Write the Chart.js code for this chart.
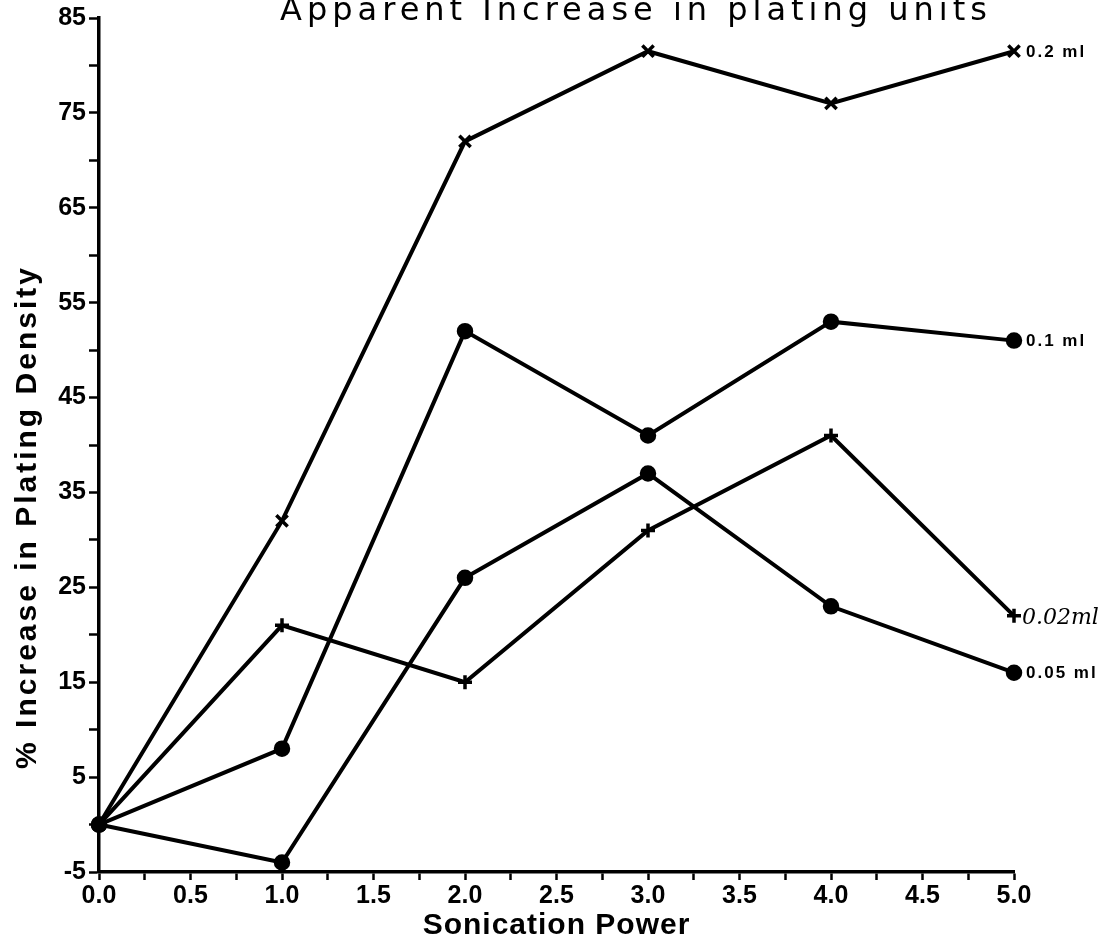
<!DOCTYPE html>
<html>
<head>
<meta charset="utf-8">
<style>
  html, body { margin: 0; padding: 0; background: #fff; }
  #wrap { width: 1115px; height: 944px; }
</style>
<script src="https://cdn.jsdelivr.net/npm/chart.js@4/dist/chart.umd.min.js"></script>
</head>
<body>
<div id="wrap"><canvas id="c" width="1115" height="944"></canvas></div>
<script>
// Sonication power levels (x) and % increase in plating density per sample volume
const powers = [0, 1, 2, 3, 4, 5];
const vol02  = [0, 32, 72, 81.5, 76, 81.5];
const vol01  = [0, 8, 52, 41, 53, 51];
const vol005 = [0, -4, 26, 37, 23, 16];
const vol002 = [0, 21, 15, 31, 41, 22];

const seriesNames = ['0.2 ml', '0.1 ml', '0.05 ml', '0.02ml'];
const titleText = 'Apparent Increase in plating units';
const xTitle = 'Sonication Power';
const yTitle = '% Increase in Plating Density';

const toPts = arr => arr.map((v, i) => ({ x: powers[i], y: v }));

const BOLD = '"Liberation Sans", Arial, sans-serif';

// Draws the title, axis titles and the end-of-line series labels
const decorations = {
  id: 'decorations',
  afterDraw(chart) {
    const ctx = chart.ctx;
    const area = chart.chartArea;
    ctx.save();
    ctx.fillStyle = '#000';

    // Title (sits right at the top edge)
    ctx.font = '32px "DejaVu Sans", sans-serif';
    ctx.letterSpacing = '5px';
    ctx.textAlign = 'center';
    ctx.textBaseline = 'alphabetic';
    ctx.fillText(titleText, 636, 20);

    // X axis title
    ctx.font = 'bold 30px ' + BOLD;
    ctx.letterSpacing = '1px';
    ctx.textBaseline = 'middle';
    ctx.fillText(xTitle, (area.left + area.right) / 2, 926);

    // Y axis title, rotated
    ctx.save();
    ctx.translate(28, 517);
    ctx.rotate(-Math.PI / 2);
    ctx.letterSpacing = '3px';
    ctx.fillText(yTitle, 0, 0);
    ctx.restore();

    // Series labels at the last point of each line
    ctx.textAlign = 'left';
    chart.data.datasets.forEach((ds, i) => {
      const meta = chart.getDatasetMeta(i);
      const pt = meta.data[meta.data.length - 1];
      if (i === 3) {
        ctx.letterSpacing = '0px';
        ctx.font = 'italic 22px "DejaVu Serif", serif';
        ctx.fillText(ds.label, pt.x + 8, pt.y + 2);
      } else {
        ctx.letterSpacing = '2px';
        ctx.font = 'bold 17px ' + BOLD;
        ctx.fillText(ds.label, pt.x + 12, pt.y + 1);
      }
    });
    ctx.restore();
  }
};

const line = (label, data, style, radius) => ({
  label,
  data: toPts(data),
  borderColor: '#000',
  backgroundColor: '#000',
  borderWidth: 4,
  pointStyle: style,
  pointRadius: radius,
  pointBorderWidth: 3.5,
  pointBorderColor: '#000',
  pointBackgroundColor: '#000',
  tension: 0,
  clip: false
});

new Chart(document.getElementById('c'), {
  type: 'line',
  data: {
    datasets: [
      line(seriesNames[0], vol02, 'crossRot', 8),
      line(seriesNames[1], vol01, 'circle', 6.5),
      line(seriesNames[2], vol005, 'circle', 6.5),
      line(seriesNames[3], vol002, 'cross', 7)
    ]
  },
  options: {
    responsive: false,
    animation: false,
    events: [],
    layout: { padding: { left: 0, right: 101, top: 15, bottom: 0 } },
    plugins: {
      legend: { display: false },
      title: { display: false },
      tooltip: { enabled: false }
    },
    scales: {
      x: {
        type: 'linear',
        min: 0,
        max: 5,
        afterFit(scale) { scale.height = 72; },
        border: { display: true, color: '#000', width: 3.5 },
        grid: { drawOnChartArea: false, drawTicks: true, tickLength: 8, tickColor: '#000', tickWidth: 2.5 },
        ticks: {
          stepSize: 0.25,
          autoSkip: false,
          maxRotation: 0,
          padding: 1,
          color: '#000',
          font: { family: BOLD, size: 25, weight: 'bold' },
          callback: v => (Math.abs(v * 2 - Math.round(v * 2)) < 1e-9 ? v.toFixed(1) : '')
        }
      },
      y: {
        type: 'linear',
        min: -5,
        max: 85,
        afterFit(scale) { scale.width = 99; },
        border: { display: true, color: '#000', width: 3.5 },
        grid: { drawOnChartArea: false, drawTicks: true, tickLength: 10, tickColor: '#000', tickWidth: 2.5 },
        ticks: {
          stepSize: 5,
          autoSkip: false,
          padding: 3,
          color: '#000',
          font: { family: BOLD, size: 25, weight: 'bold' },
          callback: v => (Math.round(v) % 10 !== 0 ? String(v) : '')
        }
      }
    }
  },
  plugins: [decorations]
});
</script>
</body>
</html>
